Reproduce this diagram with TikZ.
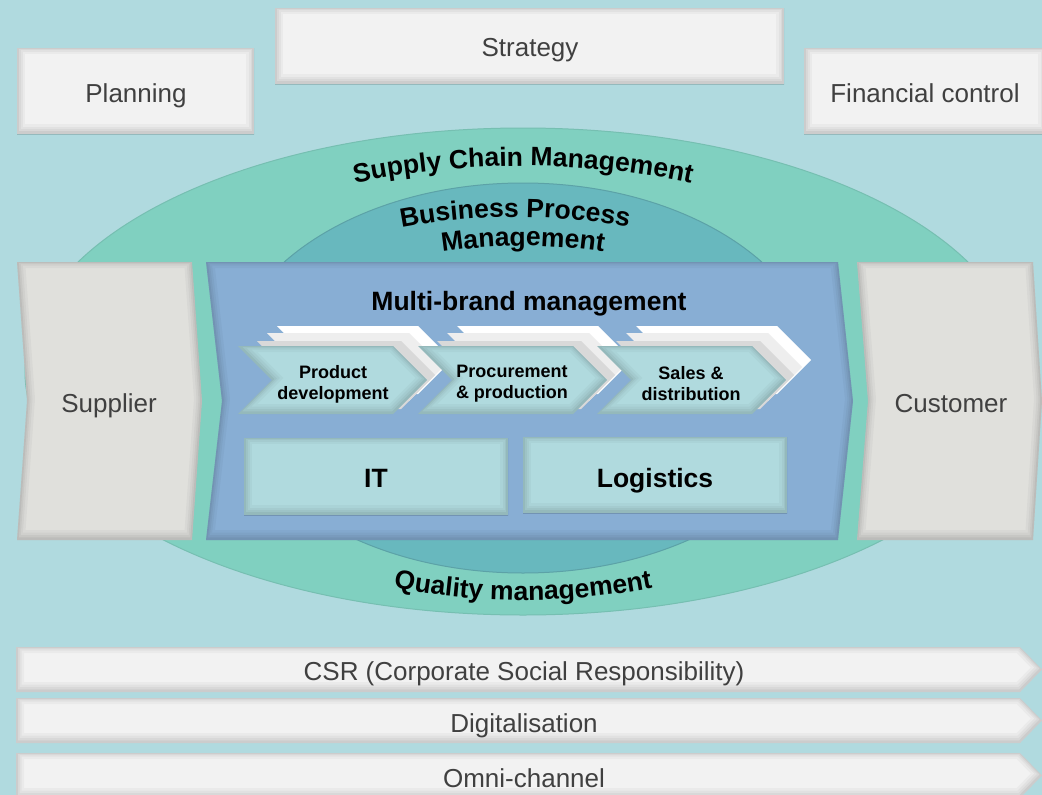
\documentclass[tikz,border=0pt]{standalone}
\usepackage{fontspec}
\setmainfont{Liberation Sans}
\usetikzlibrary{decorations.text}
\definecolor{bgc}{HTML}{B0DADF}
\definecolor{outerc}{HTML}{80D0C0}
\definecolor{innerc}{HTML}{68B8BE}
\definecolor{bluec}{HTML}{88AED4}
\definecolor{greyc}{HTML}{E0E0DC}
\definecolor{boxc}{HTML}{F2F2F2}
\definecolor{chevc}{HTML}{B0DADE}
\definecolor{txtc}{HTML}{404040}
\definecolor{layA}{HTML}{D9D9D9}
\definecolor{layB}{HTML}{EEEEEE}
\newcommand\cfont{\bfseries\fontsize{26.5}{30}\selectfont}
\newcommand\myshade[2]{%
  \fill[#2] #1;
  \begin{scope}
    \clip #1;
    \draw[black,opacity=0.03,line width=16pt,yshift=2pt] #1;
    \draw[black,opacity=0.035,line width=11pt,yshift=2pt] #1;
    \draw[black,opacity=0.04,line width=7pt,yshift=1.5pt] #1;
    \draw[black,opacity=0.05,line width=3.5pt,yshift=1pt] #1;
  \end{scope}}
\newcommand\chevpath[3]{(#1,#2) -- ++(#3,0) -- ++(34,34) -- ++(-34,34) -- ++(-#3,0) -- ++(34,-34) -- cycle}
\newcommand\chevstack[2]{%
  \fill[white] \chevpath{#1+39}{#2-20}{141};
  \fill[layB] \chevpath{#1+29}{#2-13}{142};
  \fill[layA] \chevpath{#1+19}{#2-5}{144};
  \myshade{\chevpath{#1}{#2}{155}}{chevc}}
\tikzset{
  lbl/.style={anchor=base, inner sep=0pt, text=txtc, font=\fontsize{26}{30}\selectfont},
  blbl/.style={anchor=base, inner sep=0pt, text=black, font=\bfseries\fontsize{26.5}{30}\selectfont},
  clbl/.style={inner sep=0pt, text=black, align=center, font=\bfseries\fontsize{18}{21}\selectfont},
}
\begin{document}
\begin{tikzpicture}[x=1pt,y=-1pt]
\path[use as bounding box, fill=bgc] (0,0) rectangle (1042,795);
\clip (0,0) rectangle (1042,795);

% top boxes
\myshade{(17,48) rectangle (254,134)}{boxc}
\myshade{(275,8) rectangle (784,84)}{boxc}
\myshade{(804,48) rectangle (1046,134)}{boxc}
\node[lbl] (planning) at (136,102) {Planning};
\node[lbl] (strategy) at (530,56) {Strategy};
\node[lbl] (finance) at (925,102) {Financial control};

% ellipses
\fill[outerc, draw=black!8!outerc, line width=1pt] (523,371.5) ellipse [x radius=498pt, y radius=243.5pt];
\fill[innerc, draw=black!12!innerc, line width=1pt] (523,378) ellipse [x radius=297pt, y radius=195pt];

% curved texts
\path[decorate, decoration={text along path, text align=center, text={|\cfont|Supply Chain Management}}]
  (158.4,268.75) arc[start angle=150, end angle=30, x radius=421pt, y radius=205.5pt];
\path[decorate, decoration={text along path, text align=center, text={|\cfont|Business Process}}]
  (237.9,297.5) arc[start angle=150, end angle=30, x radius=320pt, y radius=161pt];
\path[decorate, decoration={text along path, text align=center, text={|\cfont|Management}}]
  (287.4,312) arc[start angle=150, end angle=30, x radius=272pt, y radius=132pt];
\path[decorate, decoration={text along path, text align=center, text={|\cfont|Quality management}}]
  (174.9,485.75) arc[start angle=210, end angle=330, x radius=402pt, y radius=228.5pt];

% supplier, customer
\myshade{(17,262) -- (192,262) -- (202,401) -- (192,540) -- (17,540) -- (27,401) -- cycle}{greyc}
\myshade{(857,262) -- (1033,262) -- (1042,401) -- (1033,540) -- (857,540) -- (868,401) -- cycle}{greyc}
\node[lbl] (supplier) at (109,412) {Supplier};
\node[lbl] (customer) at (951,412) {Customer};

% blue box
\myshade{(206,262) -- (838,262) -- (853,401) -- (838,540) -- (206,540) -- (222,401) -- cycle}{bluec}
\node[blbl] (multi) at (529,310) {Multi-brand management};

% chevrons
\chevstack{238}{346}
\chevstack{418}{346}
\chevstack{597}{346}
\node[clbl] (prod) at (333,384) {Product\\development};
\node[clbl] (proc) at (512,384) {Procurement\\\& production};
\node[clbl] (sales) at (691,384) {Sales \&\\distribution};

% IT / Logistics
\myshade{(244,438) rectangle (508,515)}{chevc}
\myshade{(523,437) rectangle (787,513)}{chevc}
\node[blbl] (it) at (376,487) {IT};
\node[blbl] (logistics) at (655,487) {Logistics};

% bottom bars
\myshade{(16,647) -- (1020,647) -- (1042,669.5) -- (1020,692) -- (16,692) -- cycle}{boxc}
\myshade{(16,698) -- (1020,698) -- (1042,720.5) -- (1020,743) -- (16,743) -- cycle}{boxc}
\myshade{(16,753) -- (1020,753) -- (1042,775.5) -- (1020,798) -- (16,798) -- cycle}{boxc}
\node[lbl] (csr) at (524,680) {CSR (Corporate Social Responsibility)};
\node[lbl] (digital) at (524,732) {Digitalisation};
\node[lbl] (omni) at (524,787) {Omni-channel};
\end{tikzpicture}
\end{document}
